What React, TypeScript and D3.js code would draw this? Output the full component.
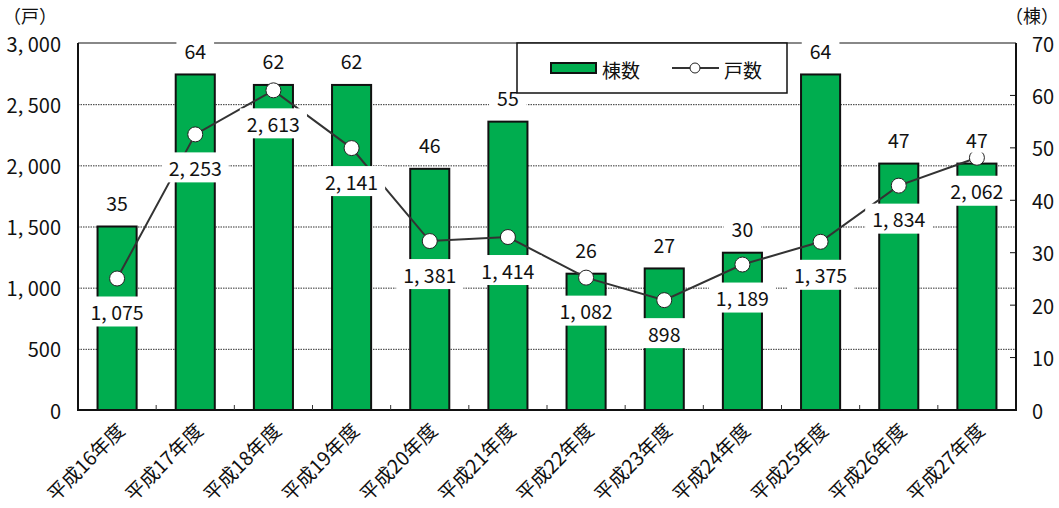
import React, { useEffect, useRef } from "react";
import * as d3 from "d3";

const categories = [
  "平成16年度", "平成17年度", "平成18年度", "平成19年度", "平成20年度", "平成21年度",
  "平成22年度", "平成23年度", "平成24年度", "平成25年度", "平成26年度", "平成27年度",
];
const buildings = [35, 64, 62, 62, 46, 55, 26, 27, 30, 64, 47, 47];
const households = [1075, 2253, 2613, 2141, 1381, 1414, 1082, 898, 1189, 1375, 1834, 2062];
const leftTicks = [0, 500, 1000, 1500, 2000, 2500, 3000];
const rightTicks = [0, 10, 20, 30, 40, 50, 60, 70];

const W = 1059;
const H = 508;
const FONT = "'Noto Sans CJK JP', 'Noto Sans', sans-serif";
const GREEN = "#00AD4F";

const fmt = (v: number) => d3.format(",")(v).replace(",", ", ");

export default function App() {
  const ref = useRef<SVGSVGElement>(null);

  useEffect(() => {
    const svg = d3.select(ref.current);
    svg.selectAll("*").remove();

    const x0 = 78, x1 = 1016, yTop = 43, yBot = 410;
    const x = d3.scaleBand().domain(categories).range([x0, x1]).paddingInner(0.5).paddingOuter(0.25);
    const band = d3.scaleBand().domain(categories).range([x0, x1]);
    const yL = d3.scaleLinear().domain([0, 3000]).range([yBot, yTop]);
    const yR = d3.scaleLinear().domain([0, 70]).range([yBot, yTop]);

    // dotted gridlines
    svg.append("g").selectAll("line").data(leftTicks.filter((t) => t > 0 && t < 3000)).join("line")
      .attr("x1", x0).attr("x2", x1).attr("y1", (d) => yL(d) + 0.5).attr("y2", (d) => yL(d) + 0.5)
      .attr("stroke", "#333").attr("stroke-width", 1).attr("stroke-dasharray", "1.5,1");

    // top border
    svg.append("line").attr("x1", x0).attr("x2", x1).attr("y1", yTop).attr("y2", yTop)
      .attr("stroke", "#888").attr("stroke-width", 2);

    // bars (棟数)
    svg.append("g").selectAll("rect").data(buildings).join("rect")
      .attr("x", (_, i) => x(categories[i])!)
      .attr("width", x.bandwidth())
      .attr("y", (d) => yR(d))
      .attr("height", (d) => yBot - yR(d))
      .attr("fill", GREEN).attr("stroke", "#111").attr("stroke-width", 2);

    const cx = (i: number) => band(categories[i])! + band.bandwidth() / 2;

    // line (戸数)
    const line = d3.line<number>().x((_, i) => cx(i)).y((d) => yL(d));
    svg.append("path").datum(households).attr("d", line)
      .attr("fill", "none").attr("stroke", "#333").attr("stroke-width", 2);

    svg.append("g").selectAll("circle").data(households).join("circle")
      .attr("cx", (_, i) => cx(i)).attr("cy", (d) => yL(d)).attr("r", 7.5)
      .attr("fill", "#fff").attr("stroke", "#222").attr("stroke-width", 1);

    const boxedLabel = (g: any, tx: number, ty: number, text: string, padX: number, h: number) => {
      const rect = g.append("rect").attr("fill", "#fff");
      const t = g.append("text").attr("x", tx).attr("y", ty).attr("text-anchor", "middle")
        .attr("dominant-baseline", "central").attr("font-family", FONT).attr("font-size", 19.5)
        .attr("fill", "#111").text(text);
      const w = (t.node() as SVGTextElement).getComputedTextLength();
      rect.attr("x", tx - w / 2 - padX).attr("y", ty - h / 2).attr("width", w + padX * 2).attr("height", h);
    };

    const labels = svg.append("g");
    households.forEach((v, i) => {
      boxedLabel(labels.append("g"), cx(i), yL(v) + 33, fmt(v), 7, 30);
    });
    buildings.forEach((v, i) => {
      boxedLabel(labels.append("g"), cx(i), yR(v) - 24, String(v), 8, 26);
    });

    // axes
    svg.append("line").attr("x1", x0).attr("x2", x0).attr("y1", yTop).attr("y2", yBot).attr("stroke", "#111").attr("stroke-width", 2);
    svg.append("line").attr("x1", x1).attr("x2", x1).attr("y1", yTop).attr("y2", yBot).attr("stroke", "#111").attr("stroke-width", 2);
    svg.append("line").attr("x1", x0 - 1).attr("x2", x1 + 1).attr("y1", yBot).attr("y2", yBot).attr("stroke", "#111").attr("stroke-width", 2);

    // category separator ticks
    svg.append("g").selectAll("line").data(categories.slice(1)).join("line")
      .attr("x1", (d) => band(d)!).attr("x2", (d) => band(d)!)
      .attr("y1", yBot).attr("y2", yBot - 5).attr("stroke", "#333").attr("stroke-width", 1);

    // right axis ticks (inward)
    svg.append("g").selectAll("line").data(rightTicks.slice(1, -1)).join("line")
      .attr("x1", x1).attr("x2", x1 - 6).attr("y1", (d) => yR(d)).attr("y2", (d) => yR(d))
      .attr("stroke", "#111").attr("stroke-width", 1);

    svg.append("g").selectAll("text").data(leftTicks).join("text")
      .attr("x", 61).attr("y", (d) => yL(d)).attr("text-anchor", "end").attr("dominant-baseline", "central")
      .attr("font-family", FONT).attr("font-size", 20).attr("fill", "#111").text((d) => fmt(d));

    svg.append("g").selectAll("text").data(rightTicks).join("text")
      .attr("x", 1032).attr("y", (d) => yR(d)).attr("text-anchor", "start").attr("dominant-baseline", "central")
      .attr("font-family", FONT).attr("font-size", 20).attr("fill", "#111").text((d) => String(d));

    svg.append("text").attr("x", 3).attr("y", 15).attr("dominant-baseline", "central")
      .attr("font-family", FONT).attr("font-size", 18).attr("fill", "#111").text("（戸）");
    svg.append("text").attr("x", 1059).attr("y", 15).attr("text-anchor", "end").attr("dominant-baseline", "central")
      .attr("font-family", FONT).attr("font-size", 18).attr("fill", "#111").text("（棟）");

    // category labels, rotated
    svg.append("g").selectAll("text").data(categories).join("text")
      .attr("transform", (d) => `translate(${band(d)! + band.bandwidth() / 2 + 3},${yBot + 16}) rotate(-45)`)
      .attr("text-anchor", "end").attr("dominant-baseline", "central")
      .attr("font-family", FONT).attr("font-size", 19.5).attr("fill", "#111").text((d) => d);

    // legend
    const lg = svg.append("g");
    lg.append("rect").attr("x", 517).attr("y", 43).attr("width", 270).attr("height", 50)
      .attr("fill", "#fff").attr("stroke", "#111").attr("stroke-width", 1.5);
    lg.append("rect").attr("x", 551).attr("y", 63).attr("width", 45).attr("height", 10)
      .attr("fill", GREEN).attr("stroke", "#111").attr("stroke-width", 2);
    lg.append("text").attr("x", 602).attr("y", 69).attr("dominant-baseline", "central")
      .attr("font-family", FONT).attr("font-size", 19).attr("fill", "#111").text("棟数");
    lg.append("line").attr("x1", 672).attr("x2", 719).attr("y1", 68).attr("y2", 68).attr("stroke", "#333").attr("stroke-width", 2);
    lg.append("circle").attr("cx", 695).attr("cy", 68).attr("r", 5).attr("fill", "#fff").attr("stroke", "#222").attr("stroke-width", 1);
    lg.append("text").attr("x", 724).attr("y", 69).attr("dominant-baseline", "central")
      .attr("font-family", FONT).attr("font-size", 19).attr("fill", "#111").text("戸数");
  }, []);

  return (
    <svg ref={ref} width={W} height={H} style={{ position: "absolute", left: 0, top: 0, background: "#fff" }} />
  );
}
